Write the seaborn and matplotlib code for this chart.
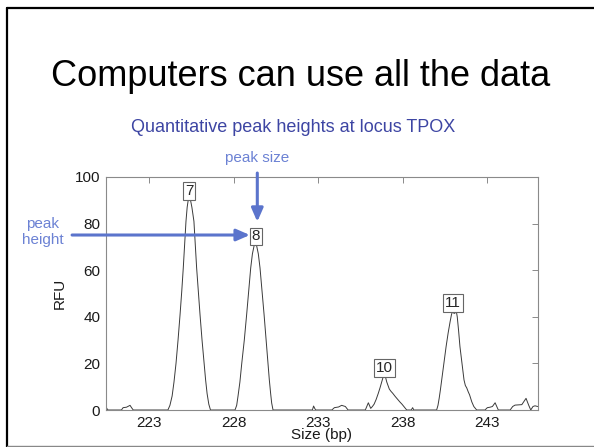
import matplotlib
matplotlib.use("Agg")
import matplotlib.pyplot as plt
from matplotlib.lines import Line2D
import seaborn as sns
import pandas as pd

# electropherogram trace (size in bp, RFU)
size_bp = [220.42, 220.50, 220.56, 221.35, 221.45, 221.65, 221.86, 221.95, 222.05,
           # allele 7
           224.10, 224.22, 224.35, 224.46, 224.58, 224.70, 224.82, 224.92, 225.01,
           225.09, 225.17, 225.24, 225.30, 225.37, 225.44, 225.52, 225.58, 225.64,
           225.72, 225.80, 225.90, 226.00, 226.12, 226.24, 226.33, 226.42, 226.52,
           226.62,
           # allele 8
           228.07, 228.17, 228.25, 228.36, 228.47, 228.62, 228.76, 228.88, 229.00,
           229.10, 229.20, 229.27, 229.35, 229.45, 229.55, 229.67, 229.79, 229.91,
           230.02, 230.10, 230.18, 230.24, 230.32,
           232.65, 232.72, 232.80, 232.85,
           233.80, 233.95, 234.20, 234.38, 234.60, 234.76,
           # allele 10
           235.78, 235.96, 236.10, 236.20, 236.30, 236.42, 236.55, 236.65, 236.75,
           236.84, 236.90, 236.97, 237.05, 237.20, 237.30, 237.40, 237.55, 237.70,
           237.82, 237.95, 238.10, 238.23, 238.50, 238.58, 238.65,
           # allele 11
           240.00, 240.08, 240.15, 240.22, 240.30, 240.43, 240.56, 240.68, 240.80,
           240.88, 240.95, 241.02, 241.08, 241.15, 241.22, 241.30, 241.38, 241.50,
           241.62, 241.70, 241.78, 241.87, 241.95, 242.08, 242.20, 242.37,
           242.86, 243.00, 243.16, 243.30, 243.46, 243.65,
           244.35, 244.50, 244.64, 245.04, 245.29, 245.45, 245.57, 245.70, 245.82, 245.98]
rfu = [1.5, 0.5, 0.0, 0.0, 1.0, 1.2, 2.0, 1.0, 0.0,
       0.0, 2.0, 6.0, 12.0, 20.0, 30.0, 41.0, 51.0, 61.0,
       71.0, 81.0, 87.0, 90.0, 91.0, 90.0, 87.0, 84.0, 81.0,
       71.0, 61.0, 51.0, 41.0, 30.0, 20.0, 13.0, 7.0, 2.5,
       0.0,
       0.0, 2.0, 6.0, 12.0, 20.0, 30.0, 41.0, 51.0, 61.0,
       67.0, 70.5, 71.5, 70.5, 67.0, 61.0, 51.0, 41.0, 30.0,
       20.0, 13.0, 7.0, 3.0, 0.0,
       0.0, 1.7, 0.5, 0.0,
       0.0, 1.0, 1.3, 2.0, 1.5, 0.0,
       0.0, 3.1, 0.7, 1.5, 2.5, 4.5, 7.2, 9.5, 12.0,
       14.3, 15.0, 14.3, 12.0, 9.0, 8.0, 7.2, 5.8, 4.5,
       3.5, 2.5, 1.2, 0.0, 0.0, 1.0, 0.0,
       0.0, 2.0, 5.0, 8.5, 12.9, 20.0, 27.2, 33.0, 38.0,
       41.0, 42.5, 41.5, 41.5, 43.0, 40.0, 34.0, 27.2, 20.0,
       12.9, 10.5, 9.5, 7.8, 6.5, 3.5, 1.5, 0.0,
       0.0, 1.0, 1.2, 1.5, 3.1, 0.0,
       0.0, 1.5, 2.1, 2.3, 5.0, 2.0, 0.0, 1.5, 1.8, 1.5]

# allele calls
alleles = ["7", "8", "10", "11"]
peak_sizes = [225.37, 229.30, 236.90, 240.98]
peak_heights = [91.0, 71.5, 15.0, 43.0]

x_ticks = [223, 228, 233, 238, 243]
y_ticks = [0, 20, 40, 60, 80, 100]

sns.set_style("white")
plt.rcParams["font.family"] = ["Liberation Sans", "DejaVu Sans"]

W, H = 594, 447
fig = plt.figure(figsize=(W / 100, H / 100), dpi=100)


def fx(px):
    return px / W


def fy(py):
    return 1 - py / H


ax = fig.add_axes([fx(105.7), fy(410), fx(537.7) - fx(105.7), fy(177) - fy(410)])

df = pd.DataFrame({"size": size_bp, "rfu": rfu})
sns.lineplot(data=df, x="size", y="rfu", ax=ax, color="#3a3a3a", lw=0.7, sort=False)

ax.set_xlim(220.42, 245.98)
ax.set_ylim(0, 100)
ax.set_xticks(x_ticks)
ax.set_yticks(y_ticks)
ax.tick_params(direction="in", length=4, width=0.6, color="#777777",
               top=True, right=True, labelsize=11, pad=4, labelcolor="#1a1a1a")
for sp in ax.spines.values():
    sp.set_color("#8a8a8a")
    sp.set_linewidth(0.8)
ax.set_xlabel("Size (bp)", fontsize=11, labelpad=-1, color="#1a1a1a")
ax.set_ylabel("RFU", fontsize=11, labelpad=6, color="#1a1a1a")

for lab, xs, ys in zip(alleles, peak_sizes, peak_heights):
    ax.text(xs, ys, lab, ha="center", va="bottom", fontsize=11, zorder=5,
            bbox=dict(boxstyle="square,pad=0.12", fc="white", ec="#666666", lw=0.8))

arrow_col = "#5b74cc"
# peak height arrow
ax.annotate("", xy=(228.95, 75.1), xytext=(218.43, 75.1),
            arrowprops=dict(arrowstyle="-|>,head_length=0.8,head_width=0.35",
                            color=arrow_col, lw=2.2, shrinkA=0, shrinkB=0),
            annotation_clip=False)
# peak size arrow
ax.annotate("", xy=(229.39, 80.8), xytext=(229.39, 101.7),
            arrowprops=dict(arrowstyle="-|>,head_length=0.8,head_width=0.35",
                            color=arrow_col, lw=2.2, shrinkA=0, shrinkB=0),
            annotation_clip=False)

fig.text(fx(301), fy(76), "Computers can use all the data", ha="center", va="center",
         fontsize=26, color="black")
fig.text(fx(293), fy(128), "Quantitative peak heights at locus TPOX", ha="center",
         va="center", fontsize=13, color="#3d45a3")
fig.text(fx(257), fy(158), "peak size", ha="center", va="center", fontsize=11,
         color="#6c82d4")
fig.text(fx(43), fy(232), "peak\nheight", ha="center", va="center", fontsize=11,
         color="#6c82d4", linespacing=1.1)

# slide frame
fig.add_artist(Line2D([fx(7), fx(7)], [0, fy(8)], color="black", lw=1.6))
fig.add_artist(Line2D([fx(7), 1], [fy(8), fy(8)], color="black", lw=1.6))
fig.add_artist(Line2D([fx(7), 1], [fy(446), fy(446)], color="#888888", lw=1.0))

fig.savefig("out.png", dpi=100)
